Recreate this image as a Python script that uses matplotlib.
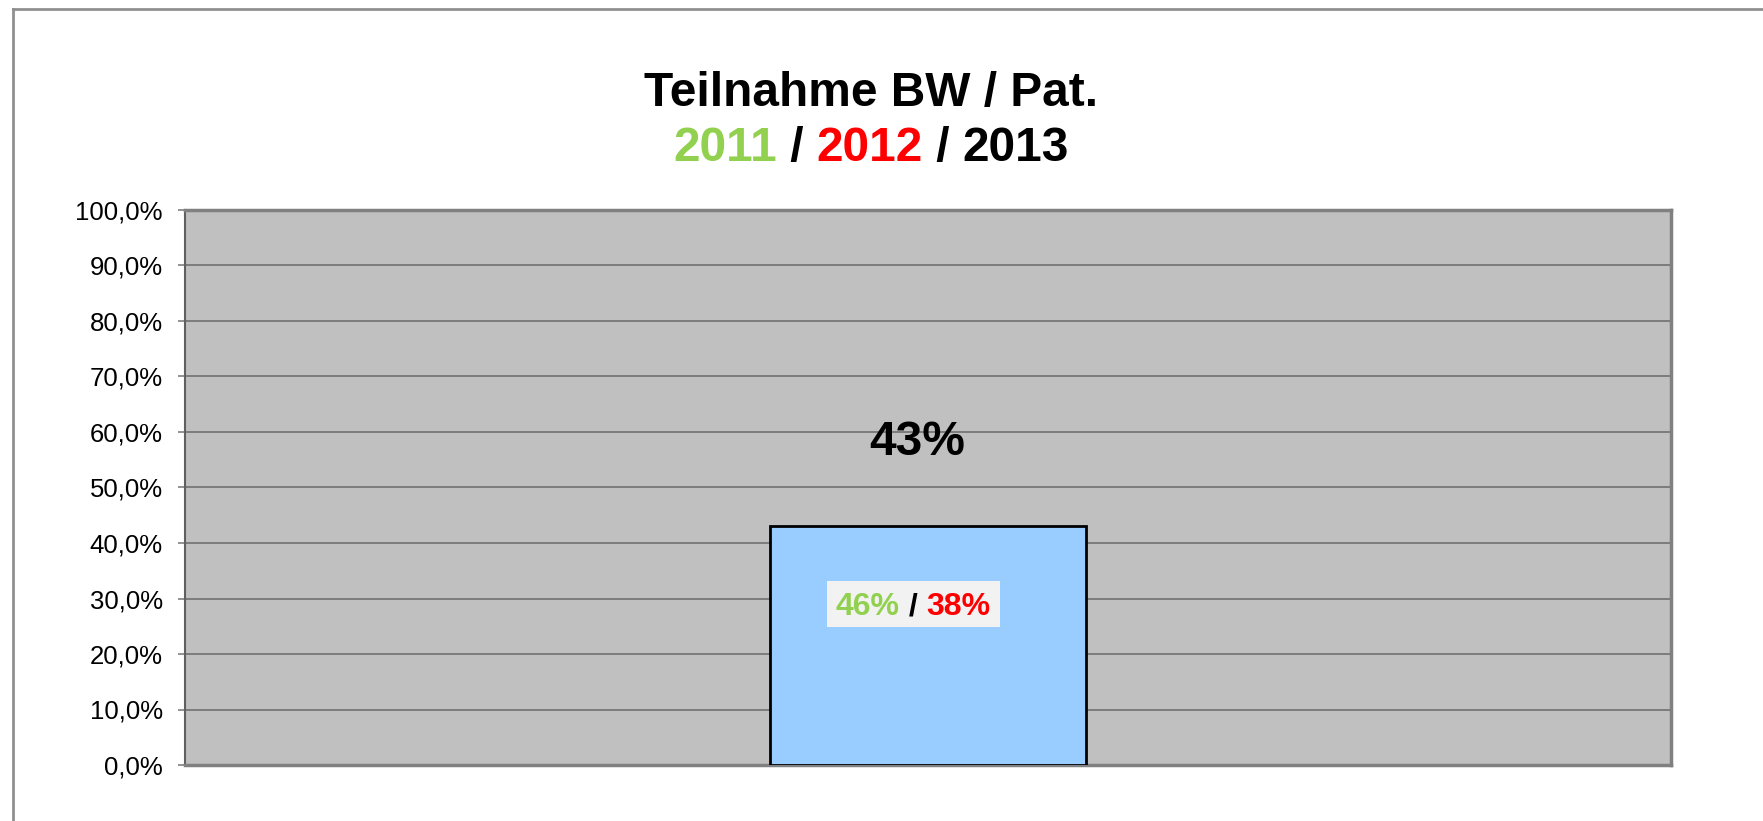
import matplotlib
matplotlib.use('Agg')
import matplotlib.pyplot as plt
from matplotlib.lines import Line2D
from matplotlib.patches import Rectangle

plt.rcParams['font.family'] = ['Liberation Sans', 'DejaVu Sans']

# data
categories = ['BW / Pat.']
values_2013 = [43.0]
values_2011 = [46]
values_2012 = [38]
title_years = ['2011', '2012', '2013']
year_colors = ['#92D050', '#FF0000', '#000000']
yticks = [0, 10, 20, 30, 40, 50, 60, 70, 80, 90, 100]

fig = plt.figure(figsize=(17.63, 8.21), dpi=100)
ax = fig.add_axes([185 / 1763, 1 - 765 / 821, (1671 - 185) / 1763, (765 - 210) / 821])
ax.set_facecolor('#C0C0C0')

xs = list(range(len(categories)))
ax.bar(xs, values_2013, width=0.213, color='#99CCFF', edgecolor='black', linewidth=2, zorder=3)
ax.set_xlim(-0.5, len(categories) - 0.5)
ax.set_ylim(0, 100)

ax.set_yticks(yticks)
ax.set_yticklabels([f'{v:.1f}%'.replace('.', ',') for v in yticks], fontsize=18.5)
ax.tick_params(axis='y', length=5, width=1.2, color='#808080', pad=11)
ax.set_xticks([])
ax.yaxis.grid(True, color='#707070', linewidth=1.2, zorder=1)
ax.set_axisbelow(True)
for side in ['top', 'right', 'bottom']:
    ax.spines[side].set_color('#808080')
    ax.spines[side].set_linewidth(2.5)
ax.spines['left'].set_color('#606060')
ax.spines['left'].set_linewidth(1.5)

# outer chart border
fig.add_artist(Line2D([13 / 1763, 1], [1 - 9 / 821, 1 - 9 / 821], color='#909090', lw=2))
fig.add_artist(Line2D([13 / 1763, 13 / 1763], [0, 1 - 9 / 821], color='#909090', lw=2))

renderer = fig.canvas.get_renderer()
W, H = fig.bbox.width, fig.bbox.height


def colored_line(xc, yb, pieces, **kw):
    # xc, yb in figure fraction; centers the pieces horizontally
    texts = [fig.text(0, yb, s, color=c, ha='left', va='baseline', **kw) for s, c in pieces]
    widths = [t.get_window_extent(renderer).width for t in texts]
    x0 = xc * W - sum(widths) / 2
    start = x0
    for t, w in zip(texts, widths):
        t.set_x(x0 / W)
        x0 += w
    return start, x0, texts


# title
fig.text(871 / 1763, 1 - 106 / 821, 'Teilnahme BW / Pat.', ha='center', va='baseline',
         fontsize=34.5, fontweight='bold')
pieces = []
for i, (yr, c) in enumerate(zip(title_years, year_colors)):
    pieces.append((yr, c))
    if i < len(title_years) - 1:
        pieces.append((' / ', 'black'))
colored_line(871 / 1763, 1 - 161 / 821, pieces, fontsize=34.5, fontweight='bold')

# value labels
for x, v, v11, v12 in zip(xs, values_2013, values_2011, values_2012):
    ax.text(x - 0.007, 55.9, f'{v:.0f}%', ha='center', va='baseline',
            fontsize=34.5, fontweight='bold', zorder=5)
    px, py = ax.transData.transform((x - 0.01, 27.0))
    start, end, texts = colored_line(px / W, py / H,
                                     [(f'{v11}%', year_colors[0]), (' / ', 'black'),
                                      (f'{v12}%', year_colors[1])],
                                     fontsize=23, fontweight='bold', zorder=6)
    ext = texts[0].get_window_extent(renderer)
    padx, pady = 9, 10
    rect = Rectangle(((start - padx) / W, (py - pady - 2) / H),
                     (end - start + 2 * padx) / W, (ext.height + 2 * pady - 4) / H,
                     transform=fig.transFigure, facecolor='#F2F2F2', edgecolor='none', zorder=5)
    fig.add_artist(rect)

fig.savefig('out.png', dpi=100)
